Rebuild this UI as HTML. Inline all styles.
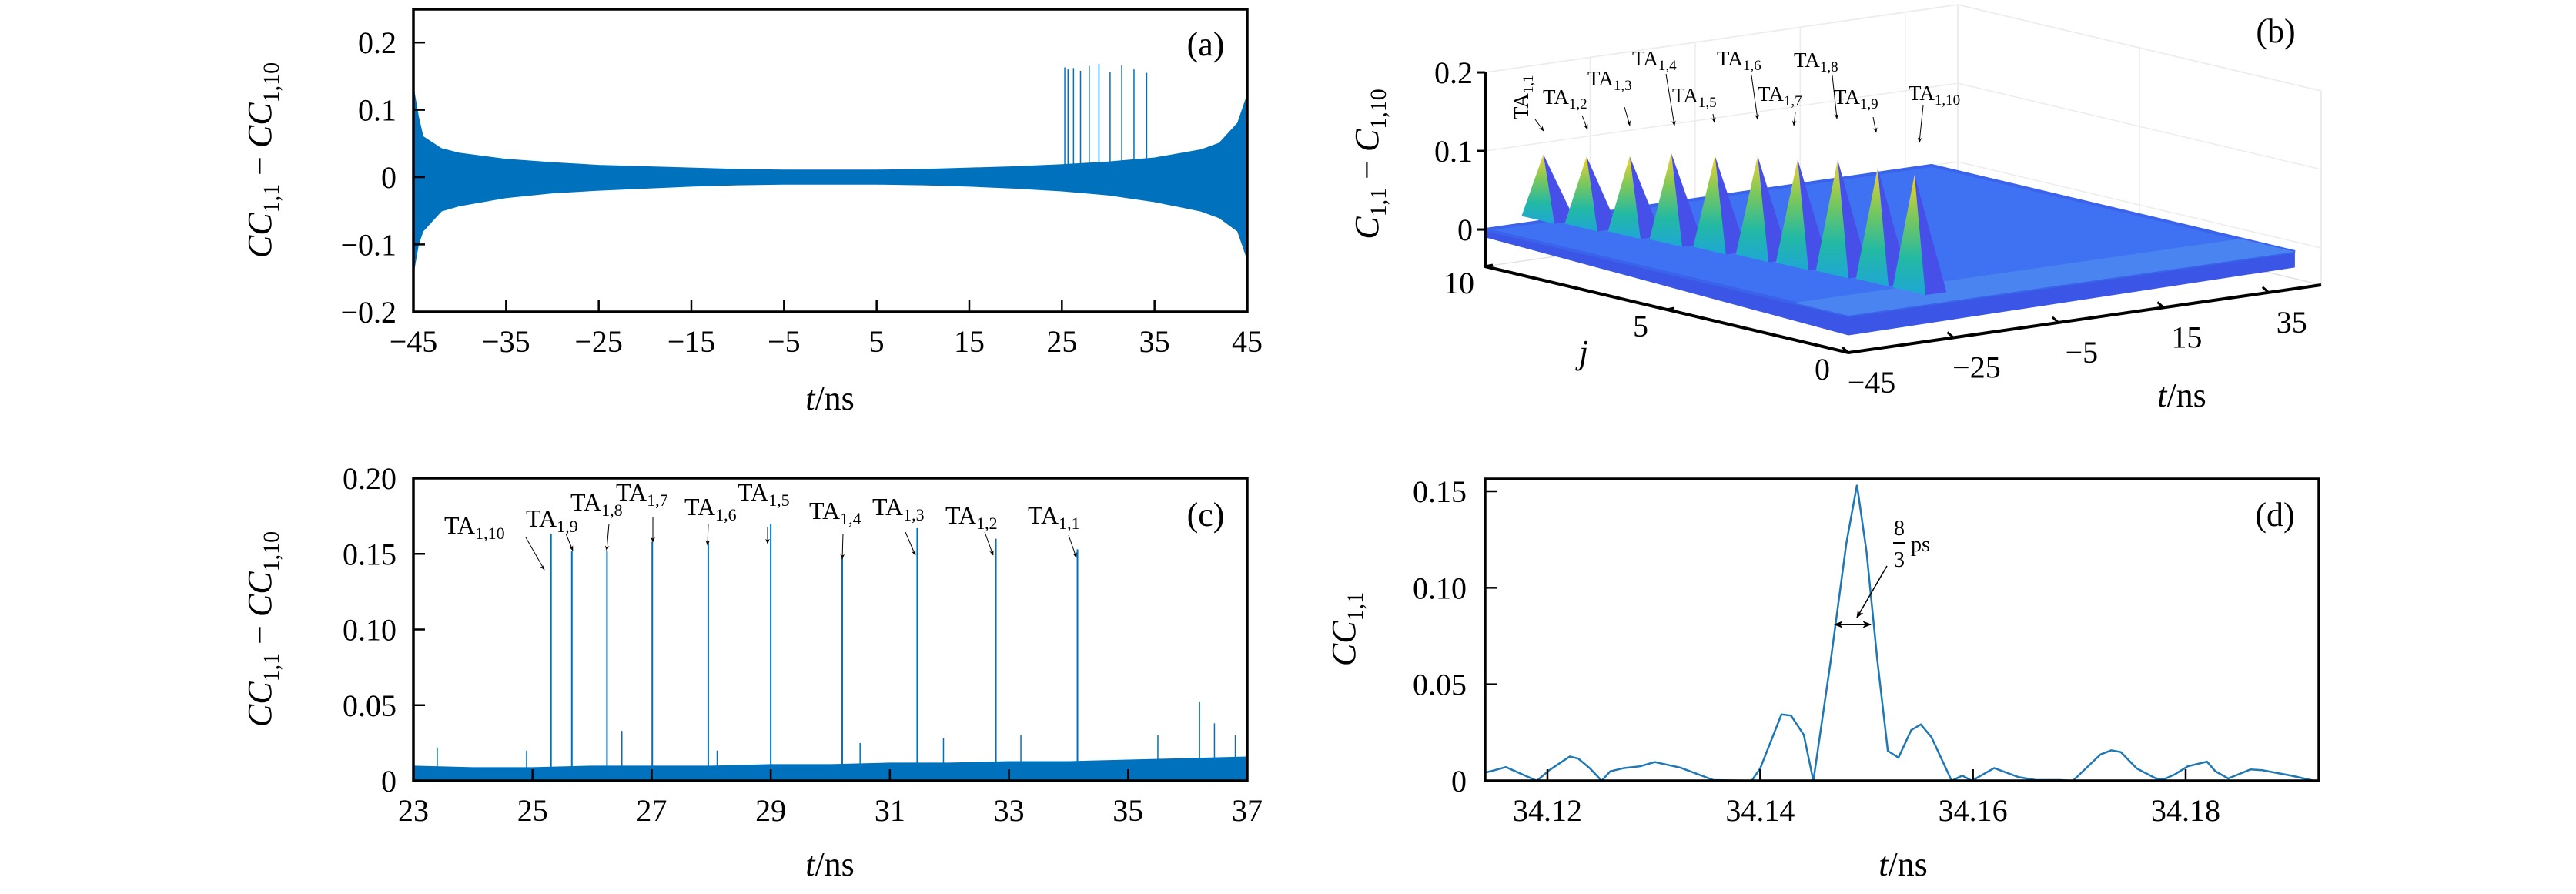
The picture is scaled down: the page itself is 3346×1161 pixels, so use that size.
<!DOCTYPE html>
<html><head><meta charset="utf-8"><title>Cross-correlation panels</title>
<style>
html,body{margin:0;padding:0;background:#fff;}
svg{display:block;font-family:"Liberation Serif",serif;}
.tick{font-size:40px;fill:#000;font-family:"Liberation Serif",serif;}
.ttl{font-size:44px;fill:#000;font-family:"Liberation Serif",serif;}
.ta{font-size:32px;fill:#000;}
.tab{font-size:27px;fill:#000;}
</style></head>
<body>
<svg id="fig" width="3346" height="1161" viewBox="0 0 3346 1161" xmlns="http://www.w3.org/2000/svg">
<defs>
<marker id="arr" viewBox="0 0 10 10" refX="9" refY="5" markerWidth="7" markerHeight="7" orient="auto"><path d="M0,1 L10,5 L0,9 L3,5 z" fill="#000"/></marker>
<marker id="arrS" viewBox="0 0 10 10" refX="9" refY="5" markerWidth="6" markerHeight="6" orient="auto-start-reverse"><path d="M0,1 L10,5 L0,9 L3,5 z" fill="#000"/></marker>
<linearGradient id="spikeGrad" x1="0" y1="0" x2="0" y2="1"><stop offset="0" stop-color="#f5d22a"/><stop offset="0.35" stop-color="#7cc85a"/><stop offset="0.7" stop-color="#22b9a4"/><stop offset="1" stop-color="#1fa6d6"/></linearGradient>
</defs>
<g id="pa"></g>
<g id="pb"></g>
<g id="pc"></g>
<g id="pd"></g>

<text class="ttl" transform="translate(352,208) rotate(-90)" text-anchor="middle"><tspan font-style="italic">CC</tspan><tspan font-size="30" dy="10">1,1</tspan><tspan dy="-10"> − </tspan><tspan font-style="italic">CC</tspan><tspan font-size="30" dy="10">1,10</tspan></text>
<text class="ttl" x="1078" y="532" text-anchor="middle"><tspan font-style="italic">t</tspan>/ns</text>
<text class="ttl" x="1566" y="72" text-anchor="middle">(a)</text>

<text class="ttl" transform="translate(352,817) rotate(-90)" text-anchor="middle"><tspan font-style="italic">CC</tspan><tspan font-size="30" dy="10">1,1</tspan><tspan dy="-10"> − </tspan><tspan font-style="italic">CC</tspan><tspan font-size="30" dy="10">1,10</tspan></text>
<text class="ttl" x="1078" y="1137" text-anchor="middle"><tspan font-style="italic">t</tspan>/ns</text>
<text class="ttl" x="1566" y="683" text-anchor="middle">(c)</text>

<text class="ttl" transform="translate(1760,817) rotate(-90)" text-anchor="middle"><tspan font-style="italic">CC</tspan><tspan font-size="30" dy="10">1,1</tspan></text>
<text class="ttl" x="2472" y="1137" text-anchor="middle"><tspan font-style="italic">t</tspan>/ns</text>
<text class="ttl" x="2955" y="683" text-anchor="middle">(d)</text>
<g>
<line x1="2383" y1="811" x2="2430" y2="811" stroke="#000" stroke-width="2" marker-start="url(#arrS)" marker-end="url(#arrS)"/>
<line x1="2451" y1="735" x2="2412" y2="802" stroke="#000" stroke-width="1.5" marker-end="url(#arr)"/>
<text x="2467" y="695" font-size="28" text-anchor="middle">8</text>
<line x1="2459" y1="705" x2="2475" y2="705" stroke="#000" stroke-width="2"/>
<text x="2467" y="736" font-size="28" text-anchor="middle">3</text>
<text x="2482" y="716" font-size="28">ps</text>
</g>

<text class="ttl" transform="translate(1790,213) rotate(-90)" text-anchor="middle"><tspan font-style="italic">C</tspan><tspan font-size="30" dy="10">1,1</tspan><tspan dy="-10"> − </tspan><tspan font-style="italic">C</tspan><tspan font-size="30" dy="10">1,10</tspan></text>
<text class="ttl" x="2057" y="472" text-anchor="middle" font-style="italic">j</text>
<text class="ttl" x="2834" y="528" text-anchor="middle"><tspan font-style="italic">t</tspan>/ns</text>
<text class="ttl" x="2956" y="55" text-anchor="middle">(b)</text>

<g id="bAnn">
<text class="tab" transform="translate(1985,155) rotate(-90)">TA<tspan font-size="19" dy="6">1,1</tspan></text>
<line x1="1994" y1="155" x2="2005" y2="170" stroke="#000" stroke-width="1" marker-end="url(#arr)"/>
<text class="tab" x="2004" y="135">TA<tspan font-size="19" dy="6">1,2</tspan></text>
<line x1="2055" y1="150" x2="2062" y2="168" stroke="#000" stroke-width="1" marker-end="url(#arr)"/>
<text class="tab" x="2062" y="111">TA<tspan font-size="19" dy="6">1,3</tspan></text>
<line x1="2110" y1="139" x2="2117" y2="163" stroke="#000" stroke-width="1" marker-end="url(#arr)"/>
<text class="tab" x="2120" y="85">TA<tspan font-size="19" dy="6">1,4</tspan></text>
<line x1="2164" y1="96" x2="2175" y2="163" stroke="#000" stroke-width="1" marker-end="url(#arr)"/>
<text class="tab" x="2172" y="133">TA<tspan font-size="19" dy="6">1,5</tspan></text>
<line x1="2225" y1="148" x2="2227" y2="159" stroke="#000" stroke-width="1" marker-end="url(#arr)"/>
<text class="tab" x="2230" y="85">TA<tspan font-size="19" dy="6">1,6</tspan></text>
<line x1="2275" y1="98" x2="2283" y2="155" stroke="#000" stroke-width="1" marker-end="url(#arr)"/>
<text class="tab" x="2283" y="131">TA<tspan font-size="19" dy="6">1,7</tspan></text>
<line x1="2332" y1="146" x2="2330" y2="163" stroke="#000" stroke-width="1" marker-end="url(#arr)"/>
<text class="tab" x="2330" y="87">TA<tspan font-size="19" dy="6">1,8</tspan></text>
<line x1="2380" y1="98" x2="2386" y2="154" stroke="#000" stroke-width="1" marker-end="url(#arr)"/>
<text class="tab" x="2382" y="135">TA<tspan font-size="19" dy="6">1,9</tspan></text>
<line x1="2433" y1="152" x2="2437" y2="172" stroke="#000" stroke-width="1" marker-end="url(#arr)"/>
<text class="tab" x="2479" y="130">TA<tspan font-size="19" dy="6">1,10</tspan></text>
<line x1="2498" y1="137" x2="2493" y2="185" stroke="#000" stroke-width="1" marker-end="url(#arr)"/>
</g>

<g id="cAnn">
<text class="ta" x="577" y="693">TA<tspan font-size="22" dy="7">1,10</tspan></text>
<line x1="683" y1="698" x2="707" y2="740" stroke="#000" stroke-width="1" marker-end="url(#arr)"/>
<text class="ta" x="683" y="684">TA<tspan font-size="22" dy="7">1,9</tspan></text>
<line x1="735" y1="693" x2="744" y2="715" stroke="#000" stroke-width="1" marker-end="url(#arr)"/>
<text class="ta" x="741" y="663">TA<tspan font-size="22" dy="7">1,8</tspan></text>
<line x1="791" y1="680" x2="788" y2="715" stroke="#000" stroke-width="1" marker-end="url(#arr)"/>
<text class="ta" x="800" y="650">TA<tspan font-size="22" dy="7">1,7</tspan></text>
<line x1="848" y1="672" x2="848" y2="704" stroke="#000" stroke-width="1" marker-end="url(#arr)"/>
<text class="ta" x="889" y="669">TA<tspan font-size="22" dy="7">1,6</tspan></text>
<line x1="920" y1="680" x2="919" y2="708" stroke="#000" stroke-width="1" marker-end="url(#arr)"/>
<text class="ta" x="958" y="650">TA<tspan font-size="22" dy="7">1,5</tspan></text>
<line x1="997" y1="684" x2="997" y2="706" stroke="#000" stroke-width="1" marker-end="url(#arr)"/>
<text class="ta" x="1051" y="674">TA<tspan font-size="22" dy="7">1,4</tspan></text>
<line x1="1095" y1="693" x2="1094" y2="726" stroke="#000" stroke-width="1" marker-end="url(#arr)"/>
<text class="ta" x="1133" y="669">TA<tspan font-size="22" dy="7">1,3</tspan></text>
<line x1="1176" y1="691" x2="1189" y2="721" stroke="#000" stroke-width="1" marker-end="url(#arr)"/>
<text class="ta" x="1228" y="680">TA<tspan font-size="22" dy="7">1,2</tspan></text>
<line x1="1279" y1="691" x2="1290" y2="721" stroke="#000" stroke-width="1" marker-end="url(#arr)"/>
<text class="ta" x="1335" y="680">TA<tspan font-size="22" dy="7">1,1</tspan></text>
<line x1="1388" y1="695" x2="1398" y2="724" stroke="#000" stroke-width="1" marker-end="url(#arr)"/>
</g>
</svg>
<script>
// ---------- Panel (a) data ----------
const aTicksX = [-45,-35,-25,-15,-5,5,15,25,35,45];
const aTicksY = [-0.2,-0.1,0,0.1,0.2];
const aTickLabelsY = ['−0.2','−0.1','0','0.1','0.2'];
const aEnvT = [-45,-44.5,-44,-42,-40,-35,-30,-25,-20,-15,-10,-5,0,5,10,15,20,25,30,35,40,42,44,44.5,45];
const aEnvUpper = [0.13,0.09,0.06,0.042,0.035,0.026,0.021,0.017,0.015,0.013,0.011,0.010,0.010,0.010,0.011,0.013,0.015,0.018,0.022,0.028,0.04,0.05,0.08,0.1,0.12];
const aEnvLower = [-0.14,-0.1,-0.08,-0.05,-0.042,-0.03,-0.023,-0.019,-0.016,-0.013,-0.011,-0.010,-0.010,-0.010,-0.011,-0.013,-0.016,-0.02,-0.026,-0.036,-0.05,-0.06,-0.08,-0.1,-0.12];
const spikeT = [25.31,25.66,26.25,27.01,27.95,29.00,30.20,31.46,32.78,34.15];
const aSpikeV = [0.163,0.160,0.162,0.158,0.165,0.168,0.156,0.166,0.160,0.155];
// ---------- Panel (c) data ----------
const cTicksX = [23,25,27,29,31,33,35,37];
const cTicksY = [0,0.05,0.10,0.15,0.20];
const cTickLabelsY = ['0','0.05','0.10','0.15','0.20'];
const cSpikeV = [0.163,0.152,0.152,0.158,0.157,0.170,0.147,0.167,0.160,0.153];
const cNoiseT = [23,24,25,26,27,28,29,30,31,32,33,34,35,36,37];
const cNoiseV = [0.010,0.009,0.009,0.010,0.010,0.010,0.011,0.011,0.012,0.012,0.013,0.013,0.014,0.015,0.016];
const cBurstT = [23.4,24.9,26.5,28.1,30.5,31.9,33.2,35.5,36.2,36.45,36.8];
const cBurstV = [0.022,0.02,0.033,0.02,0.025,0.028,0.03,0.03,0.052,0.038,0.03];
// ---------- Panel (d) data ----------
const dTicksX = [34.12,34.14,34.16,34.18];
const dTicksY = [0,0.05,0.10,0.15];
const dTickLabelsY = ['0','0.05','0.10','0.15'];
const dT = [34.1141,34.1161,34.1190,34.1202,34.1221,34.1229,34.1240,34.1251,34.1259,34.1272,34.1287,34.1301,34.1325,34.1356,34.1392,34.1400,34.1420,34.1429,34.1441,34.1450,34.1466,34.1481,34.1491,34.1500,34.1510,34.1520,34.1530,34.1542,34.1551,34.1561,34.1580,34.1590,34.1599,34.1620,34.1643,34.1659,34.1682,34.1694,34.1720,34.1730,34.1739,34.1754,34.1772,34.1780,34.1790,34.1802,34.1820,34.1828,34.1840,34.1861,34.1872,34.1899,34.1921];
const dV = [0.0041,0.0071,0,0.0056,0.0126,0.0115,0.0064,0,0.0049,0.0066,0.0075,0.0097,0.0068,0.0004,0,0.0064,0.0344,0.0338,0.0238,0,0.0610,0.1230,0.1533,0.1186,0.0632,0.0155,0.0120,0.0263,0.0292,0.0226,0,0.0027,0,0.0066,0.0019,0.0004,0.0004,0,0.0137,0.0158,0.0149,0.0064,0.0012,0.0009,0.0034,0.0075,0.0099,0.0049,0.0012,0.0059,0.0055,0.0027,0];
// ---------- Panel (b) data ----------
const bTicksT = [-45,-25,-5,15,35];
const bTicksJ = [0,5,10];
const bTicksZ = [0,0.1,0.2];
const bSpikeT = [-33.9,-32.6,-31.3,-30.3,-28.9,-27.7,-27.0,-26.3,-25.6,-25.5];
const bSpikeJ = [10,9,8,7,6,5,4,3,2,1];
const bSpikeZ = [0.085,0.092,0.102,0.116,0.122,0.132,0.138,0.148,0.148,0.150];

const NS='http://www.w3.org/2000/svg';
function mk(tag, attrs, parent){const e=document.createElementNS(NS,tag);for(const k in attrs)e.setAttribute(k,attrs[k]);parent.appendChild(e);return e;}
const BLUE='#0072bd';

const xA=t=>537+(t+45)/90*1083, yA=v=>230-v*874;
const xC=t=>537+(t-23)/14*1083, yC=v=>1014-v/0.2*393;
const xD=t=>2010+(t-34.12)/0.06*829, yD=v=>1014-v/0.15*376;
const zMin=-0.047;
function proj(t,j,z){return [2401+(t+45)/90*614-(j/10)*472, 458-(t+45)/90*88-(j/10)*112-(z-zMin)*1020];}

function frame(g,x0,y0,x1,y1,name){
  const r=mk('rect',{x:x0,y:y0,width:x1-x0,height:y1-y0,fill:'none',stroke:'#000','stroke-width':3.5},g);
  
  
}
function xticks(g,ticks,sx,y0,lab){
  ticks.forEach(t=>{
    const l=mk('line',{x1:sx(t),x2:sx(t),y1:y0,y2:y0-15,stroke:'#000','stroke-width':2.5},g);
    
    
    const tx=mk('text',{x:sx(t),y:y0+52,'text-anchor':'middle',class:'tick'},g);
    tx.textContent=lab(t);
    
    
  });
}
function yticks(g,ticks,labels,sy,x0,lx){
  ticks.forEach((v,i)=>{
    const l=mk('line',{x1:x0,x2:x0+15,y1:sy(v),y2:sy(v),stroke:'#000','stroke-width':2.5},g);
    
    
    const tx=mk('text',{x:lx,y:sy(v)+14,'text-anchor':'end',class:'tick'},g);
    tx.textContent=labels[i];
    
    
  });
}
const fmtMinus=t=>t<0?'−'+Math.abs(t):String(t);

(function(){
  const g=document.getElementById('pa');
  let d='M'+xA(aEnvT[0])+','+yA(aEnvUpper[0]);
  aEnvT.forEach((t,i)=>{d+=' L'+xA(t)+','+yA(aEnvUpper[i]);});
  for(let i=aEnvT.length-1;i>=0;i--) d+=' L'+xA(aEnvT[i])+','+yA(aEnvLower[i]);
  const p=mk('path',{d:d+'Z',fill:BLUE,stroke:BLUE,'stroke-width':2},g);
  
  
  spikeT.forEach((t,i)=>{
    const l=mk('line',{x1:xA(t),x2:xA(t),y1:yA(0),y2:yA(aSpikeV[i]),stroke:BLUE,'stroke-width':1.5},g);
    
    
  });
  frame(g,537,12,1620,405,'panel-a-plot-frame');
  xticks(g,aTicksX,xA,405,fmtMinus);
  yticks(g,aTicksY,aTickLabelsY,yA,537,515);
})();

(function(){
  const g=document.getElementById('pc');
  let d='M'+xC(cNoiseT[0])+','+yC(0);
  cNoiseT.forEach((t,i)=>{d+=' L'+xC(t)+','+yC(cNoiseV[i]);});
  d+=' L'+xC(cNoiseT[cNoiseT.length-1])+','+yC(0)+'Z';
  const p=mk('path',{d:d,fill:BLUE},g);
  
  
  cBurstT.forEach((t,i)=>{
    const l=mk('line',{x1:xC(t),x2:xC(t),y1:yC(0),y2:yC(cBurstV[i]),stroke:BLUE,'stroke-width':1.5},g);
    
    
  });
  spikeT.forEach((t,i)=>{
    const l=mk('line',{x1:xC(t),x2:xC(t),y1:yC(0),y2:yC(cSpikeV[i]),stroke:BLUE,'stroke-width':2},g);
    
    
  });
  frame(g,537,621,1620,1014,'panel-c-plot-frame');
  xticks(g,cTicksX,xC,1014,String);
  yticks(g,cTicksY,cTickLabelsY,yC,537,515);
})();

(function(){
  const g=document.getElementById('pd');
  const pts=dT.map((t,i)=>xD(t)+','+yD(dV[i])).join(' ');
  const pl=mk('polyline',{points:pts,fill:'none',stroke:'#1f77b4','stroke-width':2.5},g);
  
  
  frame(g,1929,622,3012,1014,'panel-d-plot-frame');
  xticks(g,dTicksX,xD,1014,t=>t.toFixed(2));
  yticks(g,dTicksY,dTickLabelsY,yD,1929,1905);
})();

(function(){
  const g=document.getElementById('pb');
  const P=(t,j,z)=>proj(t,j,z).join(',');
  const wall=[proj(-45,10,zMin),proj(45,10,zMin),proj(45,10,0.2),proj(-45,10,0.2)];
  const w=mk('polygon',{points:wall.map(p=>p.join(',')).join(' '),fill:'none',stroke:'#e3e3e3','stroke-width':1.5},g);
  
  
  const side=[proj(45,10,zMin),proj(45,0,zMin),proj(45,0,0.2),proj(45,10,0.2)];
  const s=mk('polygon',{points:side.map(p=>p.join(',')).join(' '),fill:'none',stroke:'#e3e3e3','stroke-width':1.5},g);
  
  
  bTicksT.forEach(t=>{const l=mk('line',{x1:proj(t,10,zMin)[0],y1:proj(t,10,zMin)[1],x2:proj(t,10,0.2)[0],y2:proj(t,10,0.2)[1],stroke:'#ececec','stroke-width':1.5},g);
    
    });
  bTicksZ.forEach(z=>{const l=mk('polyline',{points:[P(-45,10,z),P(45,10,z),P(45,0,z)].join(' '),fill:'none',stroke:'#ececec','stroke-width':1.5},g);
    
    });
  bTicksJ.forEach(j=>{const l=mk('line',{x1:proj(45,j,zMin)[0],y1:proj(45,j,zMin)[1],x2:proj(45,j,0.2)[0],y2:proj(45,j,0.2)[1],stroke:'#ececec','stroke-width':1.5},g);
    
    });
  const tEnd=40;
  const skirt=mk('polygon',{points:[P(-45,10,0),P(-45,0,0),P(tEnd,0,0),P(tEnd,0,-0.02),P(-45,0,-0.025),P(-45,10,-0.01)].join(' '),fill:'#3b55e6'},g);
  
  
  const surf=mk('polygon',{points:[P(-45,10,0),P(tEnd,10,0),P(tEnd,0,0),P(-45,0,0)].join(' '),fill:'#3f72f2',stroke:'#3a62ea','stroke-width':4},g);
  
  
  const front=mk('polygon',{points:[P(-45,1.5,0),P(tEnd,1.5,0),P(tEnd,0,0),P(-45,0,0)].join(' '),fill:'#4a84f0'},g);
  
  
  bSpikeT.forEach((t,i)=>{
    const j=bSpikeJ[i], z=bSpikeZ[i];
    const pk=P(t,j,z), A=P(t,j+0.6,0), M=P(t,j-0.3,0), B=P(t+4,j-0.3,0);
    const f1=mk('polygon',{points:[pk,A,M].join(' '),fill:'url(#spikeGrad)'},g);
    
    
    const f2=mk('polygon',{points:[pk,M,B].join(' '),fill:'#4650e8'},g);
    
    
  });
  const ax=mk('polyline',{points:[P(-45,10,0.2),P(-45,10,zMin),P(-45,0,zMin),P(45,0,zMin)].join(' '),fill:'none',stroke:'#000','stroke-width':4},g);
  
  
  bTicksZ.forEach(z=>{const p=proj(-45,10,z);
    const l=mk('line',{x1:p[0]-10,y1:p[1],x2:p[0],y2:p[1],stroke:'#000','stroke-width':3},g);
    
    
    const tx=mk('text',{x:p[0]-16,y:p[1]+14,'text-anchor':'end',class:'tick'},g);
    tx.textContent=String(z);
    
    });
  bTicksJ.forEach(j=>{const p=proj(-45,j,zMin);
    const l=mk('line',{x1:p[0],y1:p[1],x2:p[0]+10,y2:p[1]-2,stroke:'#000','stroke-width':3},g);
    
    
    const tx=mk('text',{x:p[0]-34,y:p[1]+35,'text-anchor':'middle',class:'tick'},g);
    tx.textContent=String(j);
    
    });
  bTicksT.forEach(t=>{const p=proj(t,0,zMin);
    const l=mk('line',{x1:p[0],y1:p[1],x2:p[0]-8,y2:p[1]-7,stroke:'#000','stroke-width':3},g);
    
    
    const tx=mk('text',{x:p[0]+30,y:p[1]+52,'text-anchor':'middle',class:'tick'},g);
    tx.textContent=fmtMinus(t);
    
    });
})();
</script>
</body></html>
